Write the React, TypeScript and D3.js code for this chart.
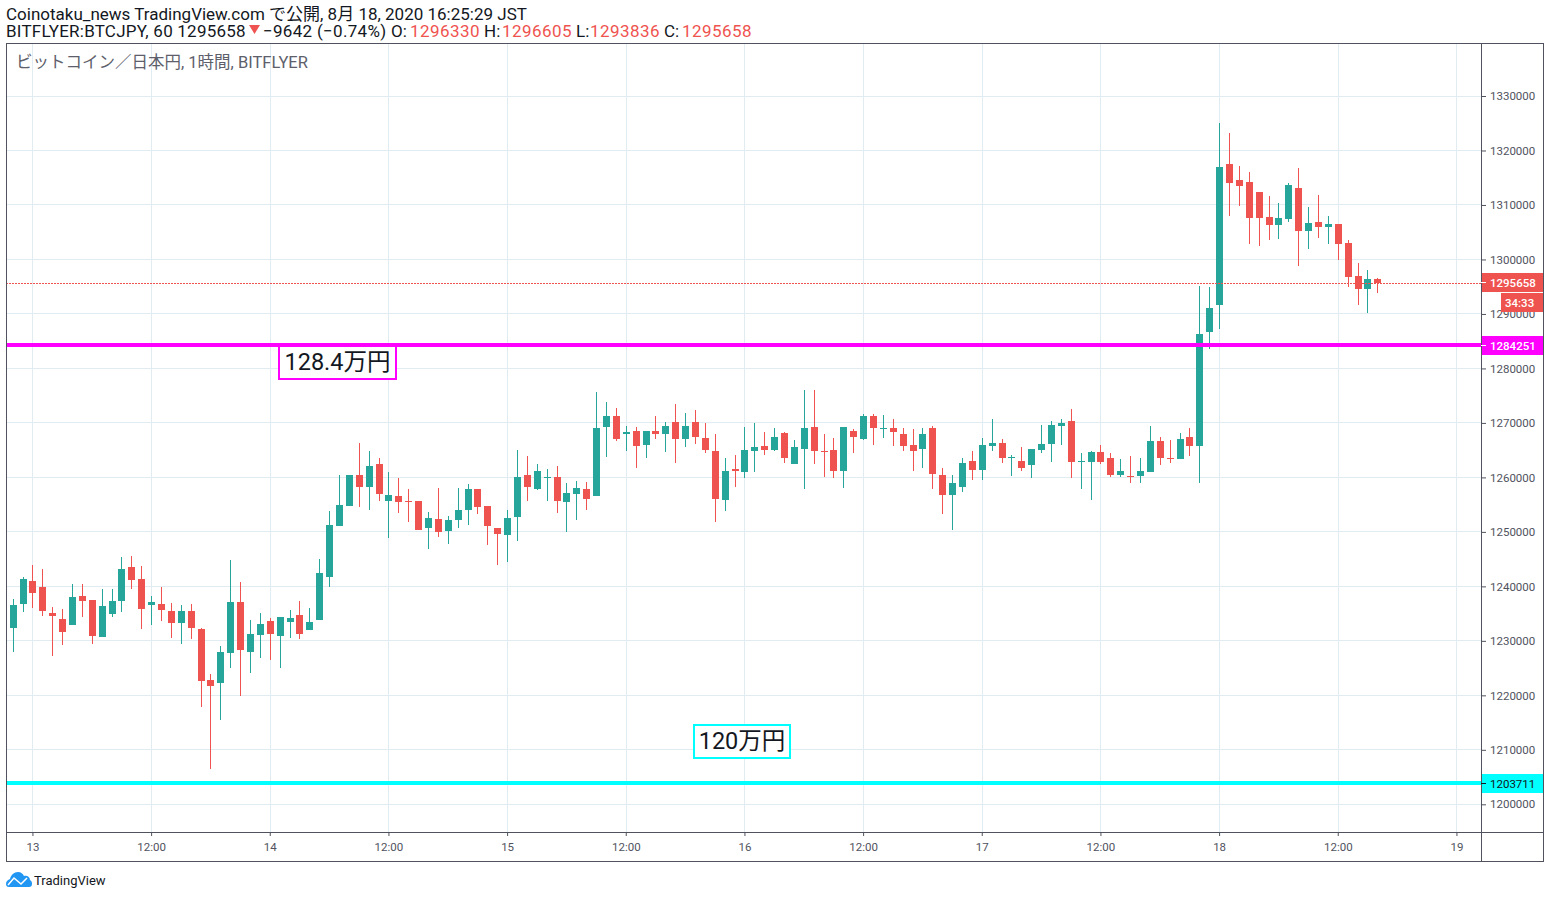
import { useEffect, useRef } from "react";
import * as d3 from "d3";

// hourly candles, 2020-08-12 22:00 to 2020-08-18 16:00, prices in thousand yen
const opens = [
  1232.3, 1236.8, 1241.0, 1239.9, 1235.1, 1234.0, 1232.9, 1238.2, 1237.5, 1230.7, 1234.9, 1237.3, 1243.6, 1241.4, 1236.6, 1236.8, 1235.5, 1233.3, 1235.5, 1232.2,
  1222.8, 1222.2, 1227.7, 1237.1, 1227.9, 1231.0, 1233.6, 1230.9, 1233.4, 1234.7, 1232.0, 1233.8, 1241.7, 1251.1, 1254.8, 1260.5, 1258.3, 1262.5, 1255.7, 1256.5,
  1255.7, 1255.7, 1250.8, 1252.4, 1250.2, 1252.1, 1254.1, 1257.8, 1254.8, 1250.8, 1249.5, 1252.8, 1260.5, 1257.8, 1259.8, 1260.0, 1255.5, 1257.0, 1257.8, 1256.5,
  1269.3, 1271.3, 1268.0, 1268.6, 1266.0, 1268.6, 1267.9, 1270.1, 1267.1, 1270.2, 1267.3, 1264.9, 1255.9, 1261.6, 1260.9, 1264.9, 1265.8, 1265.1, 1268.2, 1262.5,
  1265.3, 1269.3, 1264.9, 1265.1, 1261.2, 1268.6, 1267.1, 1271.2, 1268.8, 1269.0, 1268.0, 1266.0, 1265.3, 1269.0, 1260.5, 1256.8, 1258.3, 1263.1, 1261.4, 1265.8,
  1266.4, 1263.5, 1263.1, 1262.2, 1265.1, 1266.2, 1269.5, 1270.4, 1262.9, 1262.9, 1264.7, 1263.6, 1260.5, 1260.3, 1260.3, 1260.9, 1266.7, 1263.6, 1263.3, 1267.5,
  1265.8, 1286.7, 1291.6, 1317.5, 1314.6, 1314.2, 1312.4, 1307.8, 1306.3, 1307.4, 1313.1, 1305.2, 1306.9, 1305.9, 1306.5, 1303.0, 1296.9, 1294.6, 1296.33,
];
const highs = [
  1237.7, 1241.7, 1243.9, 1243.2, 1236.2, 1235.8, 1240.4, 1240.4, 1237.5, 1239.5, 1239.5, 1245.4, 1245.6, 1243.7, 1238.2, 1239.9, 1236.9, 1236.6, 1236.8, 1232.3,
  1223.9, 1229.0, 1244.8, 1240.8, 1233.8, 1235.1, 1234.2, 1234.4, 1235.6, 1237.3, 1236.0, 1245.0, 1253.9, 1260.5, 1260.5, 1266.4, 1264.9, 1263.6, 1260.9, 1259.8,
  1257.8, 1255.7, 1253.7, 1258.1, 1253.0, 1258.0, 1258.7, 1257.8, 1254.8, 1250.8, 1254.1, 1265.1, 1264.0, 1262.5, 1261.6, 1262.0, 1259.0, 1259.4, 1259.2, 1275.6,
  1273.9, 1272.8, 1269.5, 1269.3, 1268.6, 1271.2, 1270.1, 1273.5, 1271.9, 1272.3, 1269.9, 1267.9, 1263.5, 1264.2, 1269.3, 1269.9, 1268.4, 1269.0, 1268.4, 1266.9,
  1276.0, 1276.1, 1267.9, 1267.3, 1269.3, 1268.8, 1271.7, 1271.7, 1271.5, 1270.8, 1269.0, 1268.8, 1269.1, 1269.5, 1261.8, 1260.5, 1263.5, 1264.9, 1267.3, 1270.8,
  1267.1, 1264.2, 1265.6, 1265.3, 1269.7, 1270.4, 1270.8, 1272.6, 1264.5, 1264.9, 1266.0, 1264.4, 1263.3, 1264.0, 1263.5, 1269.5, 1267.5, 1266.9, 1268.2, 1269.0,
  1295.1, 1294.9, 1325.0, 1323.2, 1317.1, 1316.0, 1312.4, 1311.6, 1310.3, 1314.0, 1316.8, 1309.6, 1311.8, 1308.0, 1306.5, 1303.6, 1299.3, 1298.0, 1296.605,
];
const lows = [
  1227.9, 1235.3, 1236.0, 1234.5, 1227.2, 1229.2, 1232.9, 1234.4, 1229.4, 1230.7, 1234.4, 1235.3, 1239.5, 1232.2, 1232.9, 1233.6, 1230.5, 1229.4, 1230.3, 1217.8,
  1206.4, 1215.4, 1225.0, 1219.8, 1224.1, 1226.8, 1226.4, 1225.0, 1230.5, 1230.3, 1232.0, 1233.8, 1239.9, 1251.1, 1254.8, 1254.5, 1254.1, 1255.7, 1248.8, 1253.4,
  1251.9, 1250.4, 1246.9, 1249.0, 1247.8, 1250.8, 1251.3, 1253.2, 1247.5, 1244.0, 1244.4, 1248.4, 1255.7, 1257.6, 1255.7, 1253.4, 1249.9, 1252.2, 1254.1, 1256.5,
  1263.8, 1266.6, 1264.9, 1261.8, 1263.6, 1267.1, 1264.7, 1262.7, 1265.6, 1266.2, 1264.5, 1251.9, 1253.9, 1258.3, 1259.8, 1260.9, 1264.2, 1264.9, 1262.7, 1262.5,
  1257.8, 1262.5, 1260.1, 1259.8, 1258.1, 1264.4, 1266.9, 1266.0, 1267.3, 1265.8, 1264.9, 1261.2, 1261.8, 1257.8, 1253.2, 1250.4, 1257.4, 1259.6, 1259.6, 1264.9,
  1262.7, 1260.3, 1261.2, 1259.8, 1264.4, 1262.9, 1266.0, 1259.8, 1257.8, 1255.9, 1262.5, 1260.0, 1260.1, 1258.9, 1258.9, 1260.9, 1262.3, 1262.7, 1263.3, 1264.0,
  1259.0, 1283.5, 1287.2, 1308.0, 1309.8, 1302.8, 1302.4, 1303.6, 1303.7, 1306.9, 1298.8, 1301.9, 1303.9, 1302.8, 1299.9, 1294.9, 1291.6, 1290.2, 1293.836,
];
const closes = [
  1236.6, 1241.4, 1238.8, 1235.5, 1234.5, 1231.6, 1238.0, 1237.3, 1230.9, 1236.4, 1237.3, 1243.2, 1241.2, 1235.8, 1237.1, 1235.6, 1233.3, 1235.5, 1232.3, 1222.6,
  1221.7, 1227.9, 1237.1, 1228.3, 1231.2, 1233.1, 1231.2, 1234.4, 1234.2, 1231.2, 1233.4, 1242.5, 1251.3, 1255.0, 1260.5, 1258.3, 1262.0, 1257.0, 1256.7, 1255.5,
  1255.5, 1250.4, 1252.6, 1249.9, 1252.1, 1254.1, 1257.8, 1254.6, 1251.0, 1249.7, 1252.6, 1260.0, 1258.3, 1261.1, 1260.0, 1255.7, 1257.2, 1258.0, 1256.1, 1269.1,
  1271.3, 1267.1, 1268.4, 1265.8, 1268.6, 1267.9, 1269.5, 1267.1, 1269.5, 1267.5, 1265.1, 1256.1, 1261.2, 1261.2, 1265.1, 1265.6, 1265.1, 1267.5, 1263.6, 1265.6,
  1269.0, 1264.9, 1264.7, 1261.2, 1269.3, 1267.5, 1271.2, 1269.0, 1269.0, 1268.4, 1265.8, 1264.9, 1268.0, 1260.7, 1256.8, 1258.9, 1262.7, 1261.4, 1266.0, 1266.4,
  1263.6, 1263.8, 1261.8, 1265.3, 1266.2, 1269.7, 1269.9, 1262.9, 1263.1, 1264.7, 1262.9, 1260.5, 1261.1, 1260.0, 1261.1, 1266.6, 1263.6, 1263.3, 1267.1, 1265.8,
  1286.3, 1291.1, 1316.9, 1314.0, 1313.5, 1307.6, 1307.6, 1306.3, 1307.6, 1313.6, 1305.2, 1306.7, 1305.9, 1306.5, 1302.8, 1296.8, 1294.6, 1296.4, 1295.658,
];

const priceTicks = [1200000, 1210000, 1220000, 1230000, 1240000, 1250000, 1260000, 1270000, 1280000, 1290000, 1300000, 1310000, 1320000, 1330000];
const timeTicks = ["2020-08-13T00:00Z", "2020-08-13T12:00Z", "2020-08-14T00:00Z", "2020-08-14T12:00Z", "2020-08-15T00:00Z", "2020-08-15T12:00Z", "2020-08-16T00:00Z", "2020-08-16T12:00Z", "2020-08-17T00:00Z", "2020-08-17T12:00Z", "2020-08-18T00:00Z", "2020-08-18T12:00Z", "2020-08-19T00:00Z"].map((d) => new Date(d));

const lastPrice = 1295658;
const supportLevels = [
  { value: 1284251, color: "#ff00ff", labelColor: "#ffffff", note: "128.4万円" },
  { value: 1203711, color: "#00ffff", labelColor: "#131722", note: "120万円" },
];

const UP = "#26a69a";
const DOWN = "#ef5350";
const GRID = "#e1ecf2";
const FRAME = "#50535e";
const FONT = "Roboto, 'Noto Sans CJK JP', sans-serif";

export default function App() {
  const svgRef = useRef<SVGSVGElement>(null);

  useEffect(() => {
    const svg = d3.select(svgRef.current);
    svg.selectAll("*").remove();
    svg.style("font-family", FONT);

    const plot = { left: 6, right: 1481, top: 43, bottom: 832, outerRight: 1543, outerBottom: 861 };

    const x = d3
      .scaleUtc()
      .domain([timeTicks[0], timeTicks[timeTicks.length - 1]])
      .range([32.93, 1456.93]);
    const y = d3.scaleLinear().domain([1200000, 1330000]).range([804.3, 96]);
    const px = (d: Date) => Math.floor(x(d));
    const py = (v: number) => Math.round(y(v));
    const levelY = (v: number) => Math.round(y(v) - 0.7);

    const times = d3.utcHour.range(new Date("2020-08-12T22:00Z"), new Date("2020-08-18T17:00Z"));
    const candles = times.map((t, i) => ({
      t,
      open: opens[i] * 1000,
      high: highs[i] * 1000,
      low: lows[i] * 1000,
      close: closes[i] * 1000,
    }));

    // grid
    svg
      .append("g")
      .selectAll("line")
      .data(priceTicks)
      .join("line")
      .attr("x1", plot.left)
      .attr("x2", plot.right)
      .attr("y1", (d) => Math.floor(y(d)) + 0.5)
      .attr("y2", (d) => Math.floor(y(d)) + 0.5)
      .attr("stroke", GRID);
    svg
      .append("g")
      .selectAll("line")
      .data(timeTicks)
      .join("line")
      .attr("x1", (d) => px(d) + 0.5)
      .attr("x2", (d) => px(d) + 0.5)
      .attr("y1", plot.top)
      .attr("y2", plot.bottom)
      .attr("stroke", GRID);

    // candles
    const candleG = svg.append("g").attr("shape-rendering", "crispEdges");
    candleG
      .selectAll("rect.wick")
      .data(candles)
      .join("rect")
      .attr("class", "wick")
      .attr("x", (d) => px(d.t))
      .attr("width", 1)
      .attr("y", (d) => py(d.high))
      .attr("height", (d) => Math.max(py(d.low) - py(d.high), 1))
      .attr("fill", (d) => (d.close >= d.open ? UP : DOWN));
    candleG
      .selectAll("rect.body")
      .data(candles)
      .join("rect")
      .attr("class", "body")
      .attr("x", (d) => px(d.t) - 3)
      .attr("width", 7)
      .attr("y", (d) => py(Math.max(d.open, d.close)))
      .attr("height", (d) => Math.max(py(Math.min(d.open, d.close)) - py(Math.max(d.open, d.close)), 1))
      .attr("fill", (d) => (d.close >= d.open ? UP : DOWN));

    // last price line
    svg
      .append("line")
      .attr("x1", plot.left)
      .attr("x2", plot.right)
      .attr("y1", Math.floor(y(lastPrice)) + 0.5)
      .attr("y2", Math.floor(y(lastPrice)) + 0.5)
      .attr("stroke", DOWN)
      .attr("stroke-dasharray", "2 1");

    // horizontal levels
    svg
      .append("g")
      .attr("shape-rendering", "crispEdges")
      .selectAll("line")
      .data(supportLevels)
      .join("line")
      .attr("x1", plot.left)
      .attr("x2", plot.right)
      .attr("y1", (d) => levelY(d.value))
      .attr("y2", (d) => levelY(d.value))
      .attr("stroke", (d) => d.color)
      .attr("stroke-width", 4);

    // note boxes
    const notes = [
      { ...supportLevels[0], x: 279, y: 346, w: 117, h: 33 },
      { ...supportLevels[1], x: 694, y: 725, w: 96, h: 33 },
    ];
    const noteG = svg.append("g").selectAll("g").data(notes).join("g");
    noteG
      .append("rect")
      .attr("x", (d) => d.x)
      .attr("y", (d) => d.y)
      .attr("width", (d) => d.w)
      .attr("height", (d) => d.h)
      .attr("fill", "#fff")
      .attr("stroke", (d) => d.color)
      .attr("stroke-width", 2);
    noteG
      .append("text")
      .attr("x", (d) => d.x + d.w / 2)
      .attr("y", (d) => d.y + 24)
      .attr("text-anchor", "middle")
      .attr("font-size", 23.5)
      .attr("fill", "#131722")
      .text((d) => d.note);

    // frame
    svg
      .append("rect")
      .attr("x", plot.left + 0.5)
      .attr("y", plot.top + 0.5)
      .attr("width", plot.outerRight - plot.left)
      .attr("height", plot.outerBottom - plot.top)
      .attr("fill", "none")
      .attr("stroke", FRAME);
    svg
      .append("line")
      .attr("x1", plot.right + 0.5)
      .attr("x2", plot.right + 0.5)
      .attr("y1", plot.top)
      .attr("y2", plot.outerBottom)
      .attr("stroke", FRAME);
    svg
      .append("line")
      .attr("x1", plot.left)
      .attr("x2", plot.outerRight)
      .attr("y1", plot.bottom + 0.5)
      .attr("y2", plot.bottom + 0.5)
      .attr("stroke", FRAME);

    // axes
    const yAxis = svg
      .append("g")
      .attr("transform", `translate(${plot.right},0)`)
      .call(d3.axisRight(y).tickValues(priceTicks).tickFormat(d3.format("d")).tickSize(5).tickPadding(4));
    yAxis.select(".domain").remove();
    yAxis.selectAll("line").attr("stroke", FRAME);
    yAxis.selectAll("text").attr("font-size", 11.5).attr("font-family", FONT).attr("fill", FRAME);

    const xAxis = svg
      .append("g")
      .attr("transform", `translate(-0.5,${plot.bottom})`)
      .call(
        d3
          .axisBottom(x)
          .tickValues(timeTicks)
          .tickFormat((d) => {
            const t = d as Date;
            return t.getUTCHours() === 12 ? "12:00" : String(t.getUTCDate());
          })
          .tickSize(4)
          .tickPadding(7)
      );
    xAxis.select(".domain").remove();
    xAxis.selectAll("line").attr("stroke", FRAME);
    xAxis.selectAll("text").attr("font-size", 11.5).attr("font-family", FONT).attr("fill", FRAME);

    // price tags
    const tags = [
      { value: lastPrice, bg: DOWN, fg: "#ffffff" },
      { value: supportLevels[0].value, bg: supportLevels[0].color, fg: supportLevels[0].labelColor },
      { value: supportLevels[1].value, bg: supportLevels[1].color, fg: supportLevels[1].labelColor },
    ];
    const tagG = svg.append("g").selectAll("g").data(tags).join("g");
    tagG
      .append("rect")
      .attr("x", plot.right + 1)
      .attr("y", (d) => levelY(d.value) - 9)
      .attr("width", plot.outerRight - plot.right - 1)
      .attr("height", 19)
      .attr("fill", (d) => d.bg);
    tagG
      .append("line")
      .attr("x1", plot.right)
      .attr("x2", plot.right + 5)
      .attr("y1", (d) => levelY(d.value) + 0.5)
      .attr("y2", (d) => levelY(d.value) + 0.5)
      .attr("stroke", (d) => d.fg);
    tagG
      .append("text")
      .attr("x", plot.right + 9)
      .attr("y", (d) => levelY(d.value) + 5)
      .attr("font-size", 11.5)
      .attr("font-weight", (d) => (d.fg === "#ffffff" ? 500 : 400))
      .attr("fill", (d) => d.fg)
      .text((d) => d3.format("d")(d.value));

    // countdown tag
    svg
      .append("rect")
      .attr("x", 1501)
      .attr("y", levelY(lastPrice) + 11)
      .attr("width", plot.outerRight - 1501)
      .attr("height", 19)
      .attr("fill", DOWN);
    svg
      .append("text")
      .attr("x", 1505)
      .attr("y", levelY(lastPrice) + 25)
      .attr("font-size", 11.5)
      .attr("font-weight", 500)
      .attr("fill", "#fff")
      .text("34:33");

    // pane title
    svg
      .append("text")
      .attr("x", 16)
      .attr("y", 68)
      .attr("font-size", 16.5)
      .attr("fill", "#5d606b")
      .text("ビットコイン／日本円, 1時間, BITFLYER");

    // header lines
    const headerColor = "#131722";
    svg
      .append("text")
      .attr("x", 6)
      .attr("y", 20)
      .attr("font-size", 17)
      .attr("fill", headerColor)
      .text("Coinotaku_news TradingView.com で公開, 8月 18, 2020 16:25:29 JST");

    const row = svg.append("g").attr("font-size", 17);
    const rowItems = [
      { x: 6, text: "BITFLYER:BTCJPY, 60 1295658", fill: headerColor, spacing: 0.22 },
      { x: 263, text: "−9642 (−0.74%)", fill: headerColor, spacing: 0.3 },
      { x: 391, text: "O:", fill: headerColor, spacing: 0 },
      { x: 410, text: "1296330", fill: DOWN, spacing: 0.45 },
      { x: 484, text: "H:", fill: headerColor, spacing: 0 },
      { x: 502, text: "1296605", fill: DOWN, spacing: 0.45 },
      { x: 576, text: "L:", fill: headerColor, spacing: 0 },
      { x: 590, text: "1293836", fill: DOWN, spacing: 0.45 },
      { x: 664, text: "C:", fill: headerColor, spacing: 0 },
      { x: 682, text: "1295658", fill: DOWN, spacing: 0.45 },
    ];
    row
      .selectAll("text")
      .data(rowItems)
      .join("text")
      .attr("x", (d) => d.x)
      .attr("y", 37)
      .attr("fill", (d) => d.fill)
      .attr("letter-spacing", (d) => d.spacing)
      .text((d) => d.text);
    row
      .append("path")
      .attr("d", d3.line()([[249, 25], [260, 25], [254.5, 34]]) + "Z")
      .attr("fill", DOWN);

    // logo
    const logo = svg.append("g");
    logo
      .append("path")
      .attr("d", "M6 884 C6 881 8 880 10 879 C11 875 14 872 18 872 C21 872 23 874 24 876 C27 875 30 877 30 880 C32 881 32 883 32 884 C32 886 31 887 29 887 L9 887 C7 887 6 886 6 884 Z")
      .attr("fill", "#2196f3");
    logo
      .append("path")
      .attr("d", "M8 885 L14 878 L21 884 L27 878")
      .attr("fill", "none")
      .attr("stroke", "#fff")
      .attr("stroke-width", 1.5);
    svg
      .append("text")
      .attr("x", 34)
      .attr("y", 885)
      .attr("font-size", 13)
      .attr("fill", "#131722")
      .text("TradingView");
  }, []);

  return <svg ref={svgRef} width={1550} height={898} style={{ position: "absolute", left: 0, top: 0, background: "#fff" }} />;
}
